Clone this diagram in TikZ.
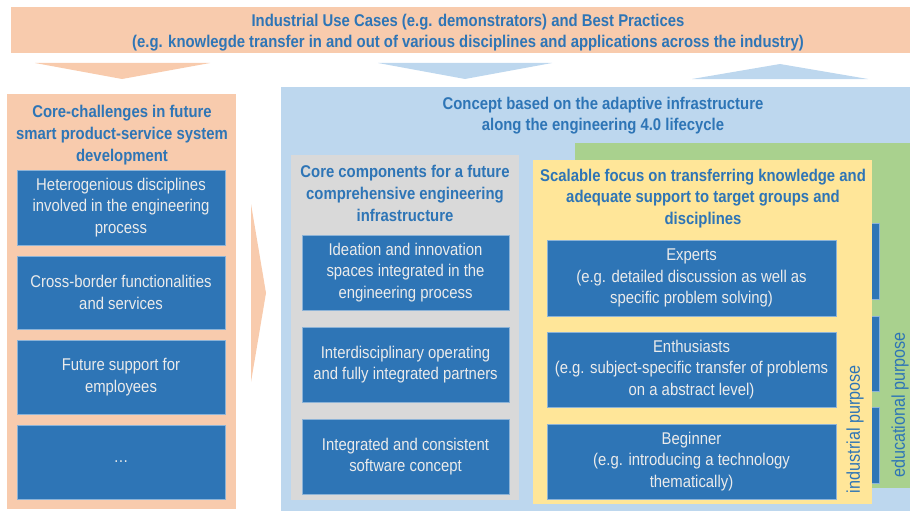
\documentclass[tikz,border=0pt]{standalone}
\usepackage{fontspec}
\setmainfont{Liberation Sans}[FakeStretch=0.875]
\usepackage{tikz}
\usetikzlibrary{positioning,fit}
\definecolor{peach}{HTML}{F8CBAD}
\definecolor{boxblue}{HTML}{2E75B6}
\definecolor{paleblue}{HTML}{BDD7EE}
\definecolor{panelgray}{HTML}{D9D9D9}
\definecolor{panelyellow}{HTML}{FFE699}
\definecolor{panelgreen}{HTML}{A9D18E}
\tikzset{every node/.style={inner sep=0pt, outer sep=0pt}}

\begin{document}
\begin{tikzpicture}[x=1pt, y=-1pt]
    \tikzstyle{panel} = [rectangle, anchor=north west]
    \tikzstyle{bluebox} = [rectangle, anchor=north west, fill=boxblue, draw=boxblue!55!white, line width=0.6pt, text=white!92!black, align=center, font=\fontsize{17}{21.5}\selectfont]
    \tikzstyle{ptitle} = [text=boxblue, align=center, font=\bfseries\fontsize{17}{21.7}\selectfont]
    \tikzstyle{purpose} = [text=boxblue, rotate=90, font=\fontsize{18.5}{20}\selectfont]

    \useasboundingbox (0,0) rectangle (910,511);

    % banner and the arrows below it
    \node[panel, fill=peach, minimum width=899pt, minimum height=46pt] (usecases) at (11,7) {};
    \node[ptitle] (usetext) at (468,32.5) {Industrial Use Cases (e.g. demonstrators) and Best Practices\\(e.g. knowlegde transfer in and out of various disciplines and applications across the industry)};
    \fill[peach] (35,63) -- (210,63) -- (122,79) -- cycle;
    \fill[paleblue] (378,63) -- (552,63) -- (465,79) -- cycle;
    \fill[paleblue] (692,79) -- (868,79) -- (780,64) -- cycle;

    % core challenges
    \node[panel, fill=peach, minimum width=229pt, minimum height=415pt] (challenges) at (7,94) {};
    \node[ptitle] (chtitle) at (122,135) {Core-challenges in future\\smart product-service system\\development};
    \node[bluebox, minimum width=208pt, minimum height=75pt] (hetero) at (17,170) {Heterogenious disciplines\\involved in the engineering\\process};
    \node[bluebox, minimum width=208pt, minimum height=73pt] (crossb) at (17,256) {Cross-border functionalities\\and services};
    \node[bluebox, minimum width=208pt, minimum height=74pt] (support) at (17,340) {Future support for\\employees};
    \node[bluebox, minimum width=208pt, minimum height=74pt] (etc) at (17,425) {\dots};

    \fill[peach] (251,204) -- (266,293) -- (251,382) -- cycle;

    % concept
    \node[panel, fill=paleblue, minimum width=629pt, minimum height=424pt] (concept) at (281,87) {};
    \node[ptitle] (cotitle) at (603,115.5) {Concept based on the adaptive infrastructure\\along the engineering 4.0 lifecycle};

    \node[panel, fill=panelgray, minimum width=228pt, minimum height=345pt] (components) at (291,155) {};
    \node[ptitle] (cptitle) at (405,193.5) {Core components for a future\\comprehensive engineering\\infrastructure};
    \node[bluebox, minimum width=207pt, minimum height=75pt] (ideation) at (302,235) {Ideation and innovation\\spaces integrated in the\\engineering process};
    \node[bluebox, minimum width=207pt, minimum height=75pt] (partners) at (302,327) {Interdisciplinary operating\\and fully integrated partners};
    \node[bluebox, minimum width=207pt, minimum height=75pt] (software) at (302,419) {Integrated and consistent\\software concept};

    \node[panel, fill=panelgreen, minimum width=335pt, minimum height=345pt] (educational) at (575,143) {};
    \node[bluebox, minimum width=319pt, minimum height=76pt] (edua) at (560,223) {};
    \node[bluebox, minimum width=319pt, minimum height=75pt] (edub) at (560,316) {};
    \node[bluebox, minimum width=319pt, minimum height=76pt] (educ) at (560,407) {};
    \node[purpose] (edutext) at (900,405) {educational purpose};

    \node[panel, fill=panelyellow, minimum width=339pt, minimum height=344pt] (industrial) at (533,160) {};
    \node[ptitle] (intitle) at (703,198.5) {Scalable focus on transferring knowledge and\\adequate support to target groups and\\disciplines};
    \node[bluebox, minimum width=289pt, minimum height=76pt] (experts) at (547,240) {Experts\\(e.g. detailed discussion as well as\\specific problem solving)};
    \node[bluebox, minimum width=289pt, minimum height=75pt] (enthus) at (547,332) {Enthusiasts\\(e.g. subject-specific transfer of problems\\on a abstract level)};
    \node[bluebox, minimum width=289pt, minimum height=75pt] (beginner) at (547,424) {Beginner\\(e.g. introducing a technology\\thematically)};
    \node[purpose, anchor=west] (indtext) at (855,493) {industrial purpose};
\end{tikzpicture}
\end{document}
